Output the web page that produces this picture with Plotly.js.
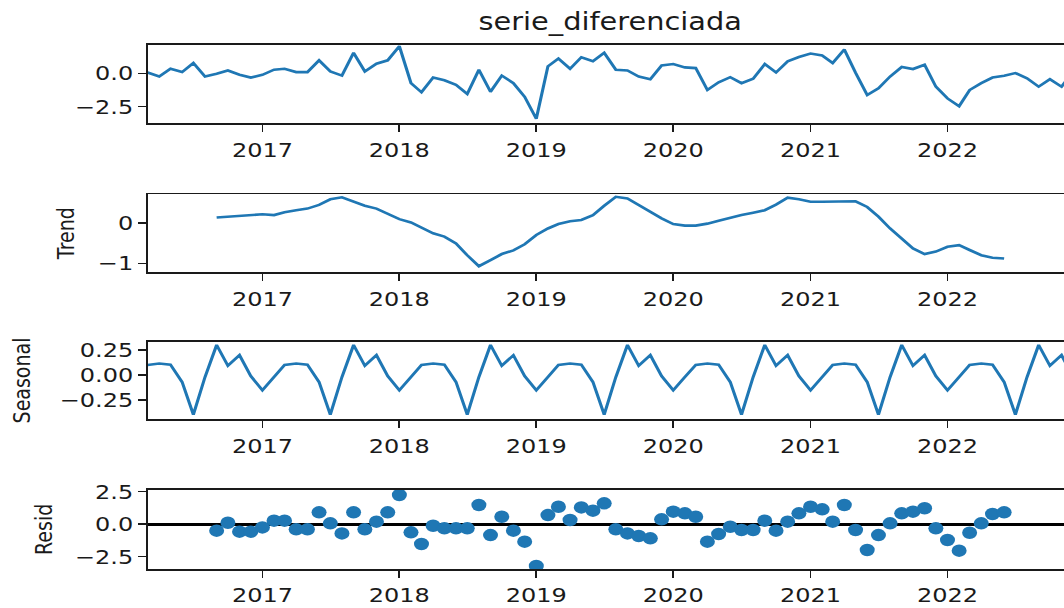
<!DOCTYPE html>
<html>
<head>
<meta charset="utf-8">
<script src="https://cdn.plot.ly/plotly-3.0.1.min.js"></script>
<style>
  html, body { margin: 0; padding: 0; overflow: hidden; background: #fff; width: 1064px; height: 608px; }
  #chart { width: 900px; height: 608px; transform: scaleX(1.2); transform-origin: 0 0; }
</style>
</head>
<body>
<div id="chart"></div>
<script>
// Monthly series, March 2016 – December 2022
const startYear = 2016, startMonth = 3, nMonths = 82;
const months = [];
for (let k = 0; k < nMonths; k++) {
  const idx = (startMonth - 1) + k;
  const y = startYear + Math.floor(idx / 12);
  const m = (idx % 12) + 1;
  months.push(y + '-' + String(m).padStart(2, '0') + '-01');
}

const observed = [
  0.06, -0.24, 0.34, 0.09, 0.77, -0.24, -0.04, 0.21, -0.11, -0.32,
  -0.11, 0.27, 0.34, 0.09, 0.09, 0.97, 0.14, -0.17, 1.53, 0.14, 0.72, 0.97,
  2.03, -0.74, -1.42, -0.32, -0.52, -0.87, -1.55, 0.27, -1.38, -0.17, -0.74, -1.76,
  -3.40, 0.52, 1.10, 0.34, 1.20, 0.90, 1.53, 0.27, 0.21, -0.24, -0.44, 0.59,
  0.69, 0.44, 0.39, -1.25, -0.67, -0.29, -0.74, -0.40, 0.69, 0.06, 0.90, 1.22,
  1.48, 1.33, 0.77, 1.78, 0.04, -1.63, -1.12, -0.24, 0.47, 0.32, 0.64, -1.00,
  -1.88, -2.46, -1.25, -0.74, -0.32, -0.19, 0.02, -0.37, -1.00, -0.44, -1.00, 0.10
];

const trend = [
  null, null, null, null, null, null, 0.13, 0.15, 0.16, 0.18,
  0.21, 0.19, 0.26, 0.31, 0.35, 0.44, 0.58, 0.63, 0.52, 0.42, 0.35, 0.23,
  0.09, 0.01, -0.12, -0.26, -0.34, -0.51, -0.80, -1.07, -0.92, -0.77, -0.68, -0.53,
  -0.30, -0.14, -0.03, 0.04, 0.07, 0.19, 0.42, 0.64, 0.60, 0.44, 0.27, 0.11,
  -0.03, -0.07, -0.07, -0.02, 0.05, 0.13, 0.19, 0.25, 0.31, 0.45, 0.62, 0.58,
  0.52, 0.52, 0.52, 0.52, 0.53, 0.39, 0.15, -0.14, -0.38, -0.63, -0.77, -0.71,
  -0.59, -0.55, -0.67, -0.80, -0.86, -0.88, null, null, null, null, null, null
];

const seasonal = [
  0.10, 0.115, 0.103, -0.07, -0.396, -0.02, 0.30, 0.093, 0.198, -0.01,
  -0.152, -0.02, 0.10, 0.115, 0.103, -0.07, -0.396, -0.02, 0.30, 0.093, 0.198, -0.01,
  -0.152, -0.02, 0.10, 0.115, 0.103, -0.07, -0.396, -0.02, 0.30, 0.093, 0.198, -0.01,
  -0.152, -0.02, 0.10, 0.115, 0.103, -0.07, -0.396, -0.02, 0.30, 0.093, 0.198, -0.01,
  -0.152, -0.02, 0.10, 0.115, 0.103, -0.07, -0.396, -0.02, 0.30, 0.093, 0.198, -0.01,
  -0.152, -0.02, 0.10, 0.115, 0.103, -0.07, -0.396, -0.02, 0.30, 0.093, 0.198, -0.01,
  -0.152, -0.02, 0.10, 0.115, 0.103, -0.07, -0.396, -0.02, 0.30, 0.093, 0.198, -0.01
];

const resid = [
  null, null, null, null, null, null, -0.51, 0.10, -0.59, -0.59,
  -0.26, 0.26, 0.26, -0.41, -0.41, 0.90, 0.05, -0.72, 0.90, -0.41, 0.18, 0.90,
  2.23, -0.64, -1.54, -0.13, -0.33, -0.33, -0.33, 1.46, -0.85, 0.56, -0.51, -1.36,
  -3.23, 0.69, 1.33, 0.31, 1.28, 1.03, 1.59, -0.41, -0.72, -0.92, -1.10, 0.36,
  0.95, 0.82, 0.56, -1.36, -0.77, -0.21, -0.46, -0.46, 0.26, -0.51, 0.18, 0.82,
  1.33, 1.13, 0.18, 1.46, -0.46, -2.00, -0.85, 0.05, 0.82, 0.95, 1.21, -0.33,
  -1.23, -2.05, -0.67, 0.05, 0.77, 0.90, null, null, null, null, null, null
];

const seriesName = 'serie_diferenciada';
const panelLabels = ['', 'Trend', 'Seasonal', 'Resid'];

const blue = '#1f77b4';
const ink = '#1a1a1a';
const fontFam = 'DejaVu Sans, sans-serif';

const traces = [
  { x: months, y: observed, type: 'scatter', mode: 'lines', line: { color: blue, width: 2.6 }, xaxis: 'x', yaxis: 'y' },
  { x: months, y: trend, type: 'scatter', mode: 'lines', line: { color: blue, width: 2.6 }, connectgaps: false, xaxis: 'x2', yaxis: 'y2' },
  { x: months, y: seasonal, type: 'scatter', mode: 'lines', line: { color: blue, width: 2.6 }, xaxis: 'x3', yaxis: 'y3' },
  { x: months, y: resid, type: 'scatter', mode: 'markers', marker: { color: blue, size: 12.5 }, xaxis: 'x4', yaxis: 'y4' }
];

function xax(anchor) {
  return {
    anchor: anchor, domain: [0, 1], type: 'date',
    range: [months[0], months[months.length - 1]],
    tickmode: 'linear', tick0: '2017-01-01', dtick: 'M12', tickformat: '%Y',
    showgrid: false, zeroline: false,
    ticks: 'outside', ticklen: 7, tickwidth: 1.5, tickcolor: ink,
    showline: true, linecolor: ink, linewidth: 1.5, mirror: true,
    tickfont: { family: fontFam, size: 20, color: ink },
    ticklabelstandoff: 1
  };
}
function yax(anchor, domain, range, tickvals, fmt, label, standoff) {
  return {
    anchor: anchor, domain: domain, range: range,
    tickmode: 'array', tickvals: tickvals, tickformat: fmt,
    showgrid: false, zeroline: false,
    ticks: 'outside', ticklen: 6.5, tickwidth: 1.5, tickcolor: ink,
    showline: true, linecolor: ink, linewidth: 1.5, mirror: true,
    tickfont: { family: fontFam, size: 20, color: ink },
    title: { text: label, font: { family: fontFam, size: 19, color: ink }, standoff: standoff },
    automargin: false
  };
}

const H = 608;
function dom(top, bottom) { return [1 - bottom / H, 1 - top / H]; }

const layout = {
  width: 900, height: 608,
  margin: { l: 123.3, r: 6, t: 0, b: 0 },
  paper_bgcolor: '#fff', plot_bgcolor: '#fff',
  showlegend: false,
  title: { text: seriesName, x: 0.5, xref: 'paper', y: 1 - 22 / H, yref: 'paper', yanchor: 'middle', xanchor: 'center',
           font: { family: fontFam, size: 24, color: ink } },
  xaxis: xax('y'),
  xaxis2: xax('y2'),
  xaxis3: xax('y3'),
  xaxis4: xax('y4'),
  yaxis: yax('x', dom(44.7, 123.3), [-3.74, 2.14], [-2.5, 0], '.1f', panelLabels[0], 10),
  yaxis2: yax('x2', dom(194, 272.3), [-1.22, 0.71], [-1, 0], 'd', panelLabels[1], 14),
  yaxis3: yax('x3', dom(341.7, 419.3), [-0.443, 0.333], [-0.25, 0, 0.25], '.2f', panelLabels[2], 19),
  yaxis4: Object.assign(yax('x4', dom(489.7, 569), [-3.46, 2.64], [-2.5, 0, 2.5], '.1f', panelLabels[3], 13),
                        { zeroline: true, zerolinecolor: '#000', zerolinewidth: 3 })
};

Plotly.newPlot('chart', traces, layout, { displayModeBar: false, staticPlot: true });
</script>
</body>
</html>
